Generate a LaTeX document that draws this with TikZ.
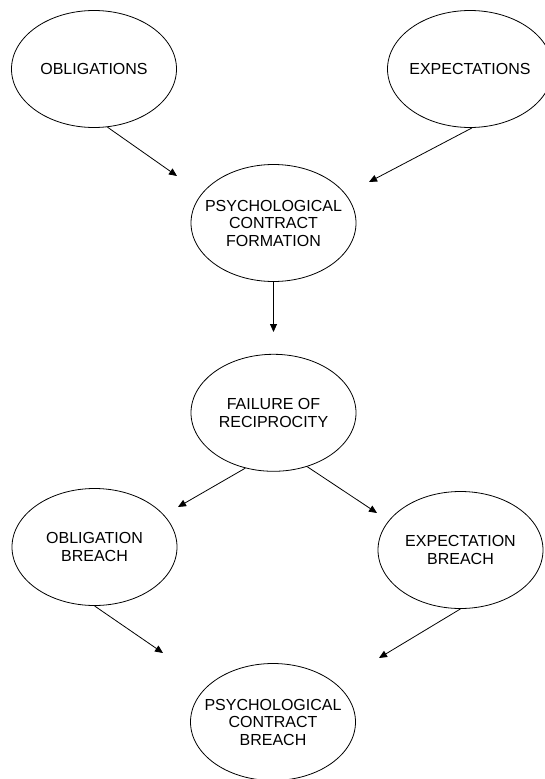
\documentclass[tikz,border=0pt]{standalone}
\usepackage{fontspec}
\setmainfont{Liberation Sans}
\usetikzlibrary{shapes.geometric, arrows.meta, positioning}
\tikzstyle{concept} = [ellipse, draw=black, line width=0.8pt, minimum width=165pt, minimum height=117pt, inner xsep=-20pt, inner ysep=0pt, align=center, font=\fontsize{16}{17.5}\selectfont]
\tikzstyle{arrow} = [line width=0.8pt,->,>={Triangle[length=8pt,width=7pt]}]

\begin{document}
\begin{tikzpicture}[x=1pt, y=1pt]
\useasboundingbox (0,0) rectangle (545,-779);

\node (obl) [concept] at (94,-69) {OBLIGATIONS};
\node (exp) [concept] at (470,-69) {EXPECTATIONS};

\node (form) [concept] at (273.5,-223) {PSYCHOLOGICAL\\CONTRACT\\FORMATION};
\node (fail) [concept, below=72pt of form] {FAILURE OF\\RECIPROCITY};

\node (obreach) [concept] at (94.5,-547) {OBLIGATION\\BREACH};
\node (ebreach) [concept] at (460.5,-550) {EXPECTATION\\BREACH};

\node (pcb) [concept] at (273,-722) {PSYCHOLOGICAL\\CONTRACT\\BREACH};

% arrows stop short of the ellipse they point at
\coordinate (tobl) at (177,-176);
\coordinate (texp) at (369,-182);
\coordinate (tform) at (273.5,-332);
\coordinate (tobreach) at (178,-507);
\coordinate (tebreach) at (377,-513);
\coordinate (tpcbl) at (163,-653);
\coordinate (tpcbr) at (379,-658);

\draw [arrow] (obl.-77) -- (tobl);
\draw [arrow] (exp.-88) -- (texp);
\draw [arrow] (form) -- (tform);
\draw [arrow] (fail.-117) -- (tobreach);
\draw [arrow] (fail.-58) -- (tebreach);
\draw [arrow] (obreach.south) -- (tpcbl);
\draw [arrow] (ebreach.south) -- (tpcbr);
\end{tikzpicture}
\end{document}
